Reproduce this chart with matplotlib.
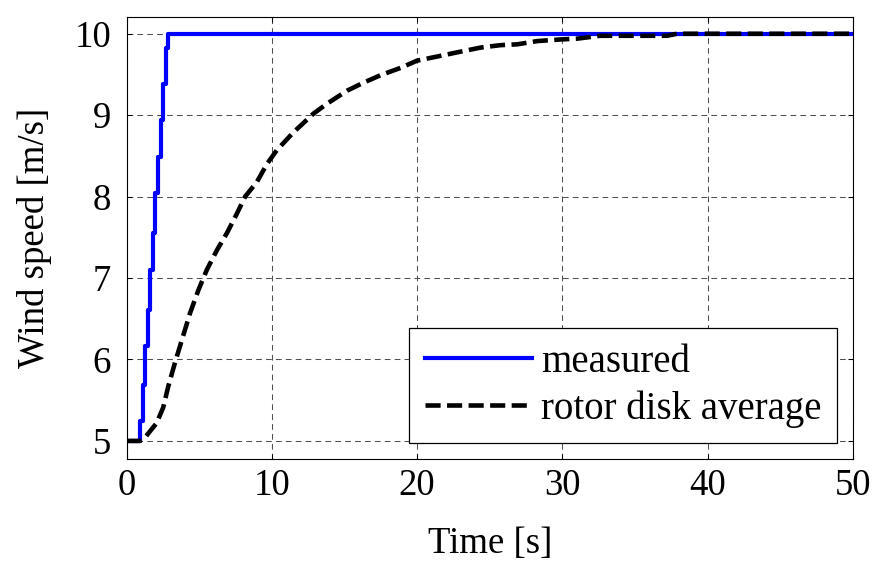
import matplotlib
matplotlib.use('Agg')
from matplotlib import pyplot as plt

# measured wind speed (staircase ramp from 5 to 10 m/s)
measured_t = [0, 0.92, 1.10, 1.27, 1.45, 1.63, 1.81, 1.98, 2.16, 2.34, 2.52, 2.69, 2.87, 50]
measured_v = [5.0, 5.24, 5.69, 6.16, 6.61, 7.10, 7.55, 8.04, 8.49, 8.94, 9.38, 9.83, 10.0, 10.0]

# rotor disk average wind speed
rotor_t = [0, 0.92, 1.26, 2.07, 2.52, 2.87, 3.33, 3.79, 4.37, 4.94, 5.52, 6.21, 6.9,
           7.59, 8.16, 8.97, 9.66, 10.34, 11.49, 12.87, 13.79, 15.17, 16.32, 17.47,
           18.85, 20.0, 21.38, 22.99, 24.37, 25.74, 26.9, 28.28, 29.88, 31.03, 32.6,
           35.0, 37.2, 37.9, 50]
rotor_v = [5.0, 5.0, 5.04, 5.22, 5.41, 5.67, 5.96, 6.23, 6.57, 6.85, 7.10, 7.34, 7.55,
           7.79, 8.0, 8.18, 8.40, 8.57, 8.79, 9.02, 9.14, 9.30, 9.40, 9.49,
           9.58, 9.67, 9.72, 9.78, 9.83, 9.86, 9.87, 9.91, 9.93, 9.94, 9.975,
           9.975, 9.975, 10.0, 10.0]

x_ticks = [0, 10, 20, 30, 40, 50]
y_ticks = [5, 6, 7, 8, 9, 10]

plt.rcParams['font.family'] = ['Liberation Serif', 'DejaVu Serif']
fs = 26.5

fig = plt.figure(figsize=(8.73, 5.63), dpi=100)
ax = fig.add_axes([0.145, 0.185, 0.832, 0.784])

ax.plot(measured_t, measured_v, color='#0000ff', linewidth=3.0,
        drawstyle='steps-post', label='measured')
ax.plot(rotor_t, rotor_v, color='black', linewidth=3.3, dashes=(3.3, 1.4),
        label='rotor disk average')

ax.set_xlim(0, 50)
ax.set_ylim(4.78, 10.2)
ax.set_xticks(x_ticks)
ax.set_yticks(y_ticks)
ax.tick_params(direction='in', length=3.5, width=0.75, top=True, right=True,
               labelsize=fs)
ax.tick_params(axis='x', pad=7)
ax.tick_params(axis='y', pad=11)
for sp in ax.spines.values():
    sp.set_linewidth(0.8)

ax.grid(True, color='#505050', linestyle=(0, (5.5, 4)), linewidth=0.75)
ax.set_axisbelow(True)

ax.set_xlabel('Time [s]', fontsize=fs, labelpad=17)
ax.set_ylabel('Wind speed [m/s]', fontsize=fs, labelpad=16)

leg = ax.legend(loc='lower right', fontsize=28, handlelength=2.75,
                handletextpad=0.25, labelspacing=0.25, borderpad=0.4,
                borderaxespad=0.4, fancybox=False, framealpha=1,
                edgecolor='black')
leg.get_frame().set_linewidth(0.9)

fig.savefig('out.png', dpi=100, facecolor='white')
